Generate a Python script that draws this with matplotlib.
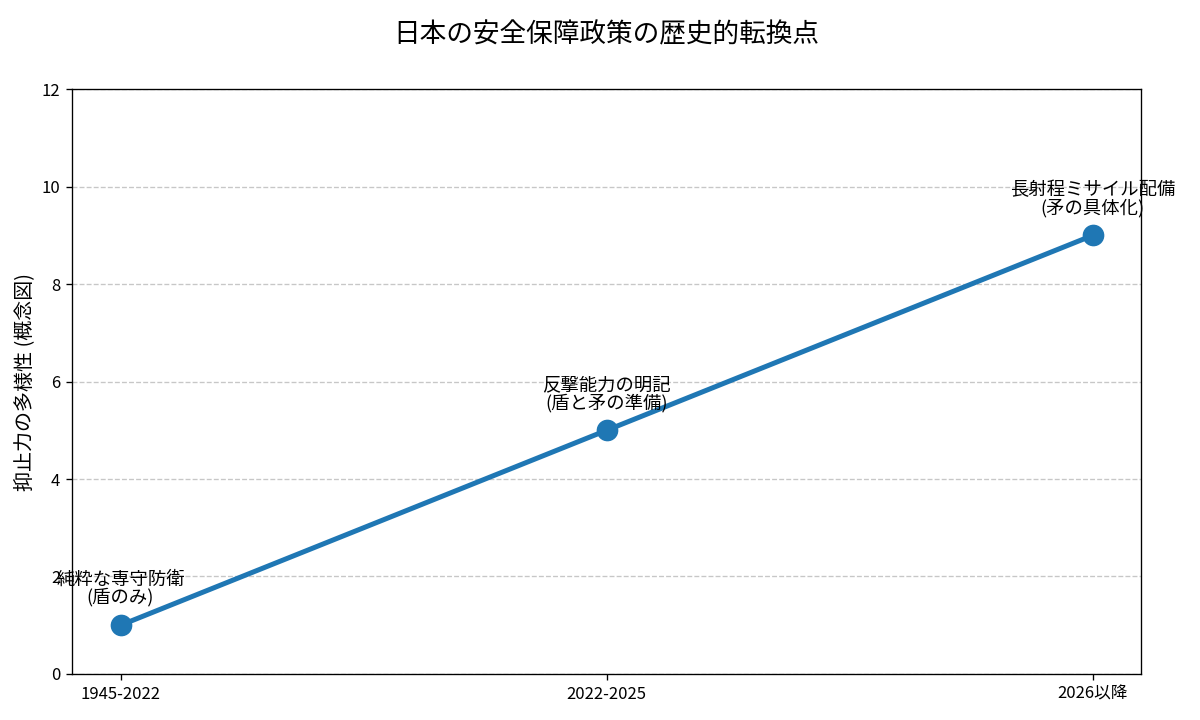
import matplotlib
matplotlib.use("Agg")
import matplotlib.pyplot as plt

plt.rcParams['font.family'] = ['Noto Sans CJK JP', 'DejaVu Sans']

# データ
periods = ["1945-2022", "2022-2025", "2026以降"]
deterrence = [1, 5, 9]
notes = ["純粋な専守防衛\n(盾のみ)", "反撃能力の明記\n(盾と矛の準備)", "長射程ミサイル配備\n(矛の具体化)"]

fig, ax = plt.subplots(figsize=(10, 6), dpi=120)
x = list(range(len(periods)))
ax.plot(x, deterrence, marker="o", color="#1f77b4", linewidth=3, markersize=12)

for xi, yi, txt in zip(x, deterrence, notes):
    ax.annotate(txt, (xi, yi), xytext=(0, 11), textcoords="offset points",
                ha="center", va="bottom", fontsize=11, linespacing=0.95)

ax.set_xticks(x)
ax.set_xticklabels(periods)
ax.set_ylim(0, 12)
ax.set_ylabel("抑止力の多様性 (概念図)", fontsize=12)
ax.set_title("日本の安全保障政策の歴史的転換点", fontsize=16, pad=28)
ax.grid(axis="y", linestyle="--", alpha=0.7)
ax.tick_params(labelsize=10)

fig.subplots_adjust(left=0.06, right=0.951, top=0.876, bottom=0.064)
fig.savefig("out.png")
